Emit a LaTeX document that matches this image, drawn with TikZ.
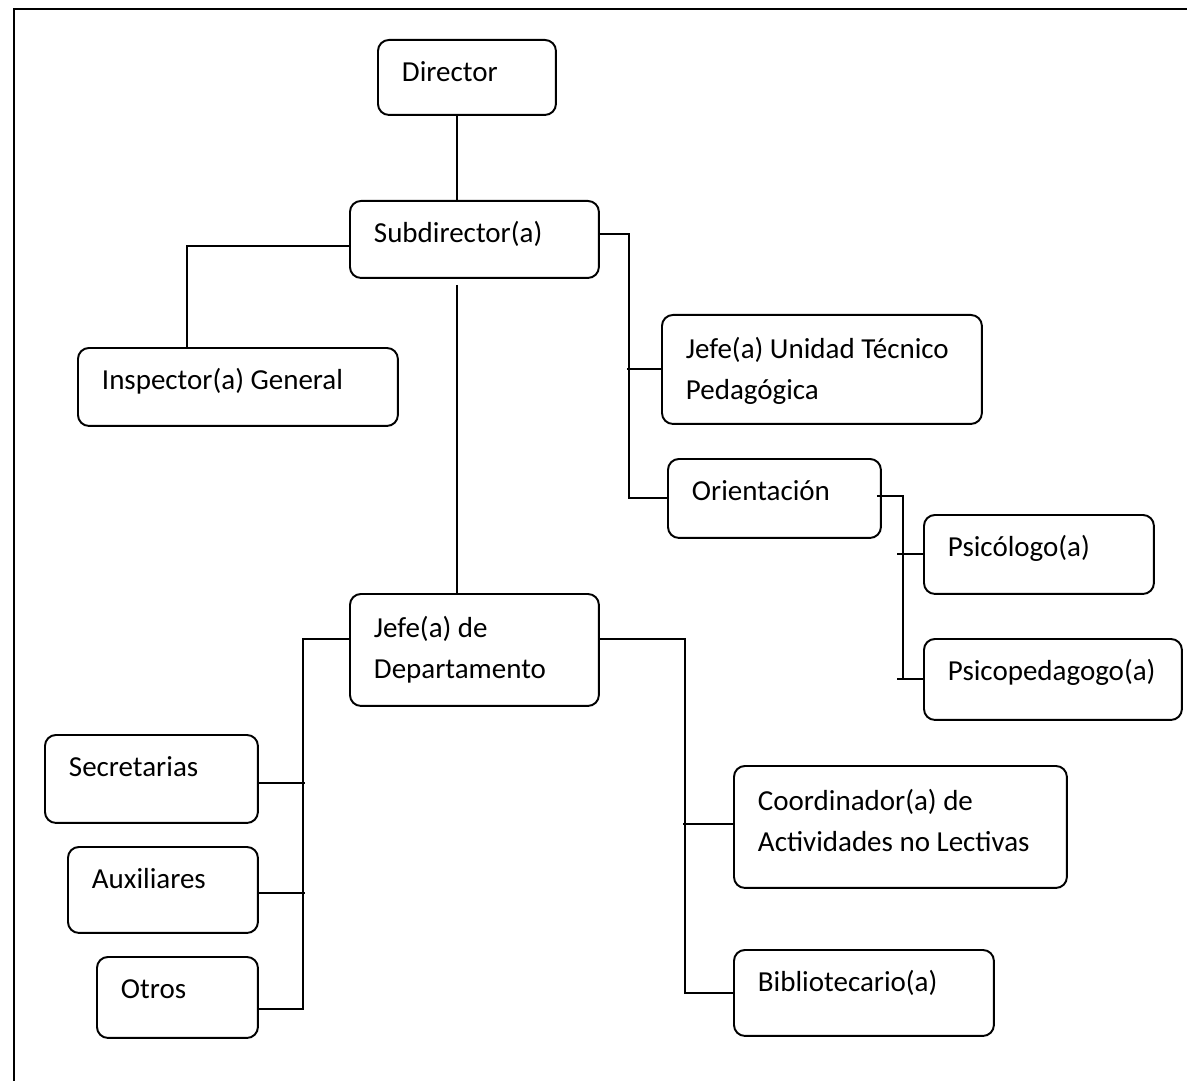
\documentclass[tikz,border=0pt]{standalone}
\usepackage{fontspec}
\setmainfont{Carlito}
\usetikzlibrary{calc}

\begin{document}
\begin{tikzpicture}[
      x=0.02cm, y=-0.02cm,
      role/.style={draw, rounded corners=0.22cm, line width=1.1pt,
        anchor=north west, inner xsep=0.48cm, inner ysep=0pt,
        text height=0.84cm, align=flush left,
        font=\fontsize{16.5}{22.8}\selectfont},
      link/.style={line width=1.1pt}
    ]
      \useasboundingbox (0,0) rectangle (1187,1081);
      \draw[line width=1.5pt] (14,1081) -- (14,9) -- (1187,9);

      \node[role, text width=2.6cm, text depth=0.66cm] (director) at (377,39)
        {Director};
      \node[role, text width=4.02cm, text depth=0.7cm] (subdir) at (349,200)
        {Subdirector(a)};
      \node[role, text width=5.44cm, text depth=0.72cm] (inspector) at (77,347)
        {Inspector(a) General};
      \node[role, text width=5.44cm, text height=0.88cm, text depth=1.3cm]
        (jefeutp) at (661,314) {Jefe(a) Unidad Técnico\\Pedagógica};
      \node[role, text width=3.3cm, text depth=0.74cm] (orient) at (667,458)
        {Orientación};
      \node[role, text width=3.64cm, text depth=0.74cm] (psico) at (923,514)
        {Psicólogo(a)};
      \node[role, text width=4.2cm, text depth=0.78cm] (psicoped) at (923,638)
        {Psicopedagogo(a)};
      \node[role, text width=4.02cm, text height=0.88cm, text depth=1.36cm]
        (jefedep) at (349,593) {Jefe(a) de\\Departamento};
      \node[role, text width=3.3cm, text depth=0.92cm] (secret) at (44,734)
        {Secretarias};
      \node[role, text width=2.84cm, text depth=0.88cm] (aux) at (67,846)
        {Auxiliares};
      \node[role, text width=2.26cm, text depth=0.78cm] (otros) at (96,956)
        {Otros};
      \node[role, text width=5.7cm, text height=0.9cm, text depth=1.54cm]
        (coord) at (733,765) {Coordinador(a) de\\Actividades no Lectivas};
      \node[role, text width=4.24cm, text depth=0.88cm] (biblio) at (733,949)
        {Bibliotecario(a)};

      % main spine
      \coordinate (spine) at (457,285);
      \draw[link] (director.south -| spine) -- (subdir.north -| spine);
      \draw[link] (spine) -- (jefedep.north -| spine);

      % subdirector branches
      \draw[link] ($(subdir.west)+(0,7)$) -| ($(inspector.north west)+(110,0)$);
      \draw[link] ($(subdir.east)+(0,-5)$) -- ++(29,0) |- (orient.west);
      \draw[link] (jefeutp.west) -- ++(-34,0);

      % orientacion
      \draw[link] ($(orient.east)+(-5,-2)$) -- ++(26,0) |- (psicoped.west);
      \draw[link] (psico.west) -- ++(-26,0);
      \draw[link] (psicoped.west) -- ++(-26,0);

      % jefe de departamento
      \draw[link] ($(jefedep.west)+(0,-11)$) -- ++(-46,0) |- ($(otros.east)+(0,12)$);
      \draw[link] ($(secret.east)+(0,4)$) -- ++(46,0);
      \draw[link] ($(aux.east)+(0,3)$) -- ++(46,0);
      \draw[link] ($(jefedep.east)+(0,-11)$) -- ++(85,0) |- (biblio.west);
      \draw[link] ($(coord.west)+(0,-3)$) -- ++(-50,0);
    \end{tikzpicture}
\end{document}
